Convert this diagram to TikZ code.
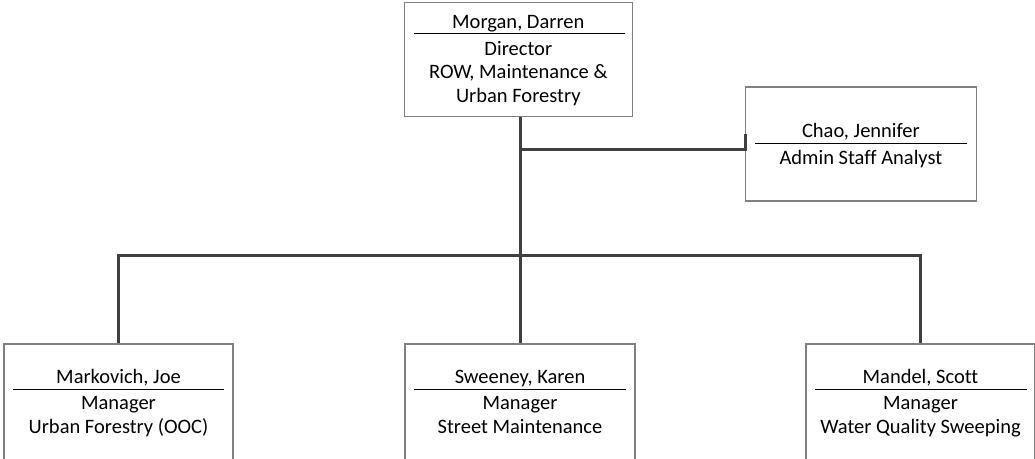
\documentclass[tikz,border=0pt]{standalone}
\usepackage{fontspec}
\setmainfont[Ligatures=NoCommon]{Carlito}
\definecolor{boxline}{RGB}{128,128,128}
\definecolor{conn}{RGB}{64,64,64}
\tikzset{
  orgbox/.style={draw=boxline, line width=1.3pt, fill=white, rectangle, minimum height=114pt, inner sep=0pt},
  txt/.style={anchor=base, inner sep=0pt, font=\fontsize{20.5}{23.5}\selectfont},
  sepline/.style={draw=black, line width=0.9pt},
  link/.style={draw=conn, line width=3pt}
}
\begin{document}
\begin{tikzpicture}[x=1pt,y=-1pt]
\useasboundingbox (0,0) rectangle (1035,458);
\clip (0,0) rectangle (1035,458);
% boxes
\node[orgbox, minimum width=228pt] (dir) at (518.3,59.3) {};
\node[orgbox, minimum width=230.5pt] (chao) at (860.9,144) {};
\node[orgbox, minimum width=229pt, minimum height=118pt] (lbox) at (118.5,403) {};
\node[orgbox, minimum width=230pt, minimum height=118pt] (mbox) at (520,403) {};
\node[orgbox, minimum width=229pt, minimum height=118pt] (rbox) at (920.5,403) {};
% connectors
\coordinate (bus) at (520,255);
\coordinate (tap) at (520,149);
\draw[link] (mbox.north |- dir.south) -- (mbox.north);
\draw[link] (lbox.north) |- (bus) -| (rbox.north);
\draw[link] (tap) -- (chao.west |- tap) -- ++(0,-15);
% top box text
\node[txt] (dirname) at (518.3,28.3) {Morgan, Darren};
\draw[sepline] (414,33.7) -- (624.5,33.7);
\node[txt] (dirt1) at (518.3,55.2) {Director};
\node[txt] (dirt2) at (518.3,78.7) {ROW, Maintenance \&};
\node[txt] (dirt3) at (518.3,102.2) {Urban Forestry};
% chao text
\node[txt] (chaoname) at (860.9,137.7) {Chao, Jennifer};
\draw[sepline] (755,143.7) -- (966.7,143.7);
\node[txt] (chaot1) at (860.9,164) {Admin Staff Analyst};
% left box
\node[txt] (lname) at (118.5,383.3) {Markovich, Joe};
\draw[sepline] (13,389.3) -- (224,389.3);
\node[txt] (lt1) at (118.5,409.8) {Manager};
\node[txt] (lt2) at (118.5,433.3) {Urban Forestry (OOC)};
% middle box
\node[txt] (mname) at (520,383.3) {Sweeney, Karen};
\draw[sepline] (414,389.3) -- (626,389.3);
\node[txt] (mt1) at (520,409.8) {Manager};
\node[txt] (mt2) at (520,433.3) {Street Maintenance};
% right box
\node[txt] (rname) at (920.5,383.3) {Mandel, Scott};
\draw[sepline] (815,389.3) -- (1026.7,389.3);
\node[txt] (rt1) at (920.5,409.8) {Manager};
\node[txt] (rt2) at (920.5,433.3) {Water Quality Sweeping};
\end{tikzpicture}
\end{document}
